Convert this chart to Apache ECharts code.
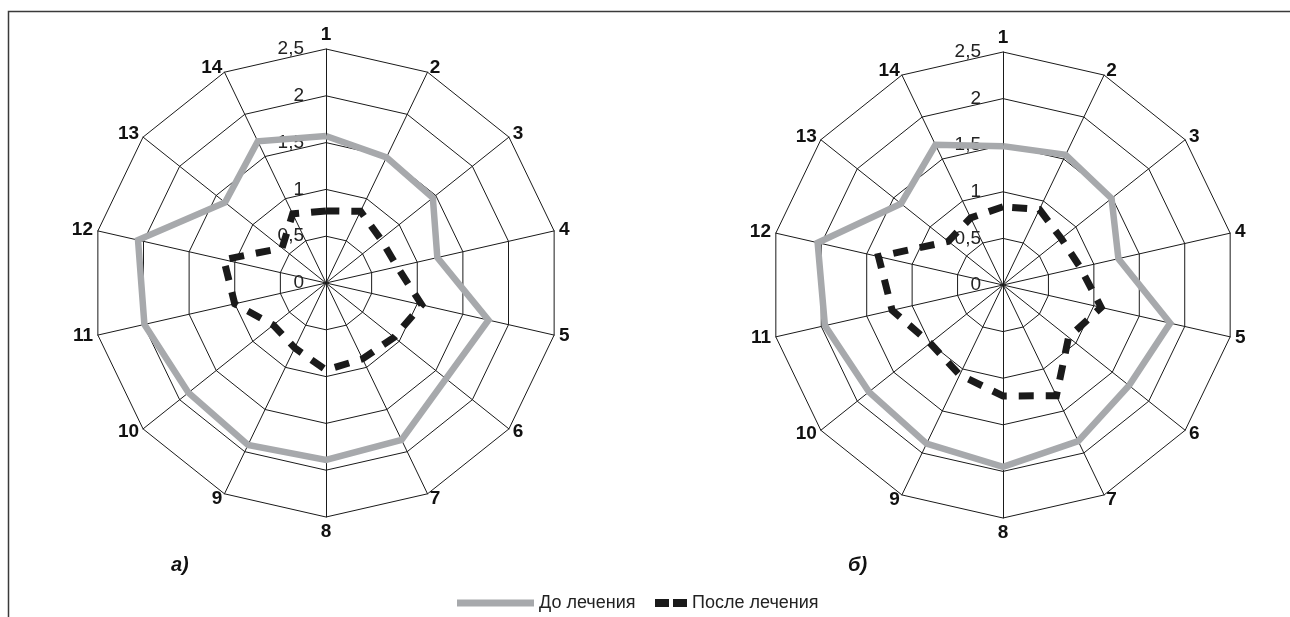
<!DOCTYPE html>
<html>
<head>
<meta charset="utf-8">
<script src="https://cdn.jsdelivr.net/npm/echarts@6/dist/echarts.min.js"></script>
<style>
  html, body { margin: 0; background: #fff; }
  #chart { width: 1290px; height: 617px; }
</style>
</head>
<body>
<div id="chart"></div>
<script>
// indicators, clockwise from the top
const axisNames = ['1', '2', '3', '4', '5', '6', '7', '8', '9', '10', '11', '12', '13', '14'];
const tickLabels = ['0', '0,5', '1', '1,5', '2', '2,5'];
const seriesNames = ['До лечения', 'После лечения'];
const panelLabels = ['а)', 'б)'];

// panel а)
const beforeA = [1.57, 1.49, 1.46, 1.22, 1.78, 1.64, 1.86, 1.89, 1.92, 1.88, 1.99, 2.06, 1.38, 1.68];
const afterA = [0.77, 0.85, 0.75, 0.78, 1.05, 0.93, 0.9, 0.93, 0.77, 0.72, 1.0, 1.12, 0.6, 0.82];
// panel б)
const beforeB = [1.49, 1.55, 1.49, 1.27, 1.84, 1.73, 1.86, 1.95, 1.89, 1.84, 1.96, 2.04, 1.40, 1.67];
const afterB = [0.84, 0.9, 0.8, 0.85, 1.08, 0.9, 1.32, 1.19, 1.07, 1.0, 1.22, 1.37, 0.75, 0.8];

const FONT = '"Liberation Sans", Arial, sans-serif';
const GRAY = '#a7a9ac';
const BLACK = '#1a1a1a';

// echarts lays radar indicators out counter-clockwise, so walk them backwards
const order = axisNames.map((_, i) => (axisNames.length - i) % axisNames.length);

function makeRadar(cx, cy, r) {
    return {
        center: [cx, cy],
        radius: r,
        startAngle: 90,
        splitNumber: 5,
        shape: 'polygon',
        indicator: order.map((k, i) => ({
            name: axisNames[k],
            min: 0,
            max: 2.5,
            axisLabel: { show: i === 0 },
        })),
        nameGap: 5,
        axisName: { color: '#111', fontSize: 19, fontWeight: 'bold', fontFamily: FONT },
        splitLine: { lineStyle: { color: BLACK, width: 1 } },
        splitArea: { show: false },
        axisLine: { lineStyle: { color: BLACK, width: 1 } },
        axisTick: { show: false },
        axisLabel: {
            show: false,
            color: '#222',
            fontSize: 19,
            fontFamily: FONT,
            margin: 22,
            padding: [0, 0, 7, 0],
            formatter: v => tickLabels[Math.round(v / 0.5)],
        },
    };
}

function makeSeries(idx, before, after) {
    return {
        type: 'radar',
        radarIndex: idx,
        symbol: 'none',
        silent: true,
        data: [
            {
                name: seriesNames[0],
                value: order.map(k => before[k]),
                itemStyle: { color: GRAY },
                lineStyle: { color: GRAY, width: 6.5, join: 'miter' },
            },
            {
                name: seriesNames[1],
                value: order.map(k => after[k]),
                itemStyle: { color: BLACK },
                lineStyle: { color: BLACK, width: 7, type: [15, 12], join: 'miter' },
            },
        ],
    };
}

const legendText = { color: '#222', fontSize: 18, fontFamily: FONT };

const chart = echarts.init(document.getElementById('chart'));
chart.setOption({
    animation: false,
    backgroundColor: '#fff',
    title: [
        { text: panelLabels[0], left: 171, top: 555, padding: 0,
          textStyle: { fontSize: 20, fontWeight: 'bold', fontStyle: 'italic', color: '#111', fontFamily: FONT } },
        { text: panelLabels[1], left: 848, top: 555, padding: 0,
          textStyle: { fontSize: 20, fontWeight: 'bold', fontStyle: 'italic', color: '#111', fontFamily: FONT } },
    ],
    legend: [
        {
            data: [{ name: seriesNames[0], icon: 'rect' }],
            left: 457, top: 594, padding: 0,
            itemWidth: 77, itemHeight: 7, itemGap: 0,
            selectedMode: false,
            textStyle: legendText,
        },
        {
            data: [{ name: seriesNames[1], icon: 'path://M0,0H14V8H0Z M18,0H32V8H18Z' }],
            left: 655, top: 594, padding: 0,
            itemWidth: 32, itemHeight: 8, itemGap: 0,
            selectedMode: false,
            textStyle: legendText,
        },
    ],
    radar: [makeRadar(326, 283, 234), makeRadar(1003, 285, 233)],
    series: [makeSeries(0, beforeA, afterA), makeSeries(1, beforeB, afterB)],
    graphic: [
        {
            type: 'rect',
            silent: true,
            shape: { x: 8.5, y: 11.5, width: 1400, height: 700 },
            style: { fill: 'none', stroke: '#3a3a3a', lineWidth: 1.5 },
        },
    ],
});

window.addEventListener('resize', () => chart.resize());
</script>
</body>
</html>
